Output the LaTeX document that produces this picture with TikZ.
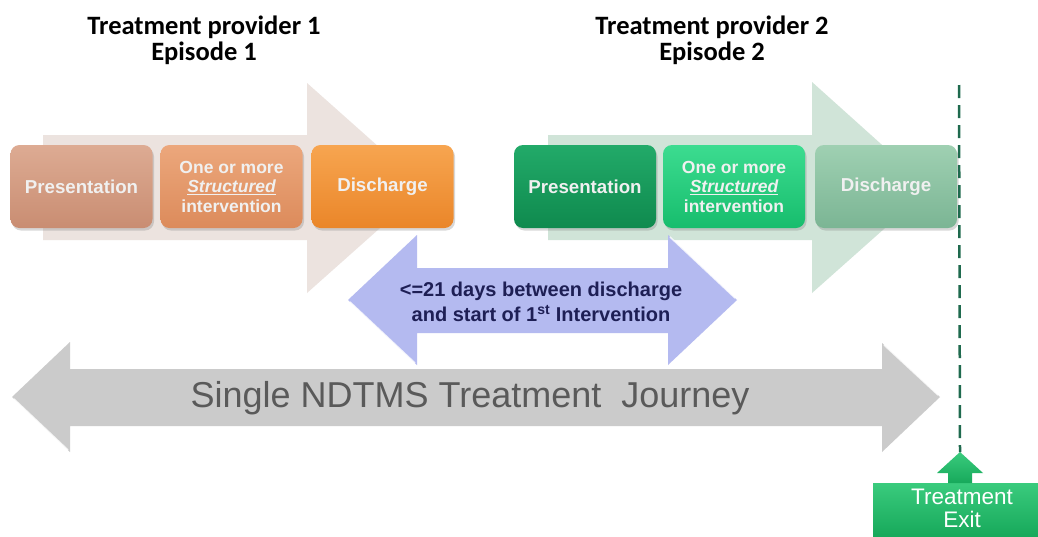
\documentclass[tikz,border=0pt]{standalone}
\usepackage{fontspec}
\setmainfont{Liberation Sans}
\newfontfamily\titlefont{Carlito}
\usetikzlibrary{shadows}
\definecolor{beigebg}{HTML}{ECE3DF}
\definecolor{greenbg}{HTML}{D0E4D8}
\definecolor{ponetop}{HTML}{DDAB93}
\definecolor{ponebot}{HTML}{C98D72}
\definecolor{ionetop}{HTML}{ECA77C}
\definecolor{ionebot}{HTML}{DC8B5B}
\definecolor{donetop}{HTML}{F7A550}
\definecolor{donebot}{HTML}{EA8629}
\definecolor{ptwotop}{HTML}{22AA69}
\definecolor{ptwobot}{HTML}{0F8A4E}
\definecolor{itwotop}{HTML}{3CDC90}
\definecolor{itwobot}{HTML}{17BD6D}
\definecolor{dtwotop}{HTML}{9FD0B2}
\definecolor{dtwobot}{HTML}{7BB594}
\definecolor{bluearrow}{HTML}{B4BAF0}
\definecolor{navytext}{HTML}{1E1F55}
\definecolor{greyarrow}{HTML}{CBCBCB}
\definecolor{greytext}{HTML}{5A5A5A}
\definecolor{dashgreen}{HTML}{1F6A4E}
\definecolor{exittop}{HTML}{3ACB7D}
\definecolor{exitbot}{HTML}{17A95B}
\begin{document}
\begin{tikzpicture}[x=1pt,y=-1pt,
  stepbox/.style={rounded corners=9pt, minimum width=142pt, minimum height=83pt,
    align=center, text=white!94!black, inner sep=2pt,
    font=\bfseries\fontsize{17.5}{19.5}\selectfont,
    drop shadow={opacity=0.3, shadow xshift=1.5pt, shadow yshift=-2.5pt}},
  bigtext/.style={font=\bfseries\fontsize{18.7}{20}\selectfont},
  titletext/.style={align=center, font=\titlefont\bfseries\fontsize{26.5}{26}\selectfont}]
\useasboundingbox (0,0) rectangle (1038,536);
\fill[white] (0,0) rectangle (1038,536);

% titles
\node[titletext] (t1) at (204,40) {Treatment provider 1\\Episode 1};
\node[titletext] (t2) at (712,40) {Treatment provider 2\\Episode 2};

% background process arrows
\fill[beigebg] (43,135) -- (307,135) -- (307,83) -- (425,188) -- (307,293) -- (307,240) -- (43,240) -- cycle;
\fill[greenbg] (548,135) -- (812,135) -- (812,82) -- (930,188) -- (812,293) -- (812,240) -- (548,240) -- cycle;

% episode 1 boxes
\node[stepbox, bigtext, top color=ponetop, bottom color=ponebot] (p1) at (81.5,186.5) {Presentation};
\node[stepbox, top color=ionetop, bottom color=ionebot] (i1) at (231.5,186.5) {One or more\\\underline{\itshape Structured}\\intervention};
\node[stepbox, bigtext, top color=donetop, bottom color=donebot] (d1) at (382.5,186.5) {Discharge};

% episode 2 boxes
\node[stepbox, bigtext, top color=ptwotop, bottom color=ptwobot] (p2) at (585,186.5) {Presentation};
\node[stepbox, top color=itwotop, bottom color=itwobot] (i2) at (734,186.5) {One or more\\\underline{\itshape Structured}\\intervention};
\node[stepbox, bigtext, top color=dtwotop, bottom color=dtwobot] (d2) at (886,186.5) {Discharge};

% blue gap arrow
\fill[bluearrow] (348,300) -- (417,235) -- (417,268) -- (668,268) -- (668,235) -- (737,300) -- (668,365) -- (668,333) -- (417,333) -- (417,365) -- cycle;
\draw[white, line width=1.5pt, opacity=0.8] (350,302) -- (415,363);
\draw[white, line width=1.5pt, opacity=0.8] (670,237) -- (735,298);
\node[align=center, text=navytext, font=\bfseries\fontsize{20}{25}\selectfont] (gap) at (541,302)
  {<=21 days between discharge\\and start of 1\textsuperscript{st} Intervention};

% grey journey arrow
\fill[greyarrow] (12,397) -- (70,342) -- (70,369) -- (882,369) -- (882,343) -- (940,397) -- (882,452) -- (882,426) -- (70,426) -- (70,452) -- cycle;
\draw[white, line width=1.5pt, opacity=0.8] (14,399) -- (68,450);
\draw[white, line width=1.5pt, opacity=0.8] (884,345) -- (938,395);
\node[text=greytext, font=\fontsize{36}{38}\selectfont] (journey) at (470,398) {Single NDTMS Treatment\ \ Journey};

% treatment exit
\shade[top color=exittop, bottom color=exitbot] (873,483) rectangle (1038,536);
\shade[top color=exittop, bottom color=exitbot] (960,452) -- (983,473) -- (972,473) -- (972,483) -- (948,483) -- (948,473) -- (937,473) -- cycle;
\coordinate (exittip) at (960,452);
\coordinate (dashtop) at (959,85);
\node[align=center, text=white, font=\fontsize{22.5}{23}\selectfont] (exit) at (962,508) {Treatment\\Exit};

% dashed exit line
\draw[dashgreen, line width=2.5pt, dash pattern=on 13pt off 7pt] (dashtop) -- (exittip);
\end{tikzpicture}
\end{document}
